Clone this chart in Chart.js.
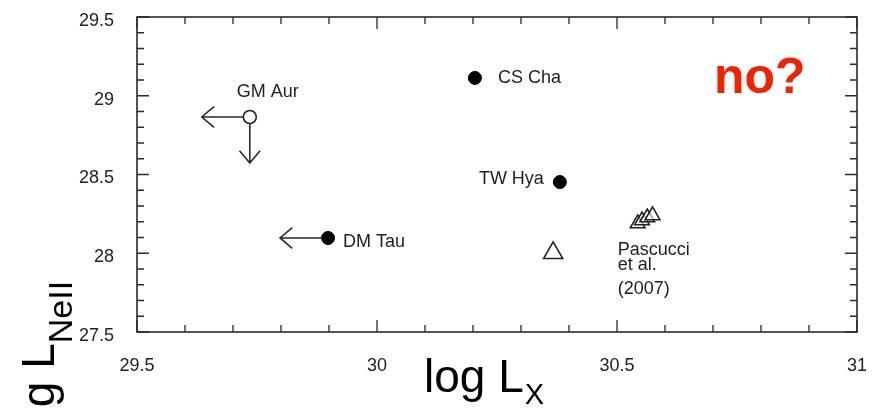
<!DOCTYPE html>
<html>
<head>
<meta charset="utf-8">
<script src="https://cdn.jsdelivr.net/npm/chart.js@4.4.1/dist/chart.umd.min.js"></script>
<style>
  html, body { margin: 0; padding: 0; background: #fff; }
  #wrap { width: 877px; height: 409px; }
</style>
</head>
<body>
<div id="wrap"><canvas id="chart" width="877" height="409"></canvas></div>
<script>
/* --------------- Data --------------------- */
const detectedNames = ["CS Cha", "TW Hya", "DM Tau"];
const detectedX = [30.204, 30.381, 29.898];
const detectedY = [29.113, 28.452, 28.097];

const limitNames = ["GM Aur"];
const limitX = [29.735];
const limitY = [28.865];

const pascucciX = [30.367, 30.543, 30.552, 30.563, 30.574];
const pascucciY = [28.002, 28.189, 28.208, 28.227, 28.240];

// sources that are only upper limits in x (log Lx) and/or y (log L NeII)
const upperLimitX = ["DM Tau", "GM Aur"];
const upperLimitY = ["GM Aur"];

const xTickLabels = ["29.5", "30", "30.5", "31"];
const yTickLabels = ["27.5", "28", "28.5", "29", "29.5"];

const FONT = '"Liberation Sans", Arial, Helvetica, sans-serif';

/* --------------- Helpers --------------------- */
const toPoints = (xs, ys) => xs.map((x, i) => ({ x: x, y: ys[i] }));
const isMajor = (v) => Math.abs(v * 2 - Math.round(v * 2)) < 1e-6;
const tickText = (labels) => (v) => {
    const hit = labels.find(l => Math.abs(parseFloat(l) - v) < 1e-6);
    return hit === undefined ? '' : hit;
};

/* --------------- Frame with inward ticks on all sides --------------------- */
const frameTicks = {
    id: 'frameTicks',
    beforeDatasetsDraw(chart) {
        const { ctx, chartArea: a, scales } = chart;
        ctx.save();
        ctx.strokeStyle = '#2a2a2a';
        ctx.lineWidth = 1.6;
        ctx.strokeRect(a.left, a.top, a.right - a.left, a.bottom - a.top);
        ctx.lineWidth = 1.3;
        ctx.beginPath();
        scales.x.ticks.forEach(t => {
            const px = scales.x.getPixelForValue(t.value);
            const len = isMajor(t.value) ? 12 : 7;
            ctx.moveTo(px, a.bottom); ctx.lineTo(px, a.bottom - len);
            ctx.moveTo(px, a.top); ctx.lineTo(px, a.top + len);
        });
        scales.y.ticks.forEach(t => {
            const py = scales.y.getPixelForValue(t.value);
            const len = isMajor(t.value) ? 12 : 7;
            ctx.moveTo(a.left, py); ctx.lineTo(a.left + len, py);
            ctx.moveTo(a.right, py); ctx.lineTo(a.right - len, py);
        });
        ctx.stroke();
        ctx.restore();
    }
};

/* --------------- Limit arrows, labels and titles --------------------- */
const drawArrow = (ctx, x0, y0, x1, y1) => {
    const ang = Math.atan2(y1 - y0, x1 - x0);
    const head = 16, spread = 0.7;
    ctx.beginPath();
    ctx.moveTo(x0, y0); ctx.lineTo(x1, y1);
    ctx.moveTo(x1 - head * Math.cos(ang - spread), y1 - head * Math.sin(ang - spread));
    ctx.lineTo(x1, y1);
    ctx.lineTo(x1 - head * Math.cos(ang + spread), y1 - head * Math.sin(ang + spread));
    ctx.stroke();
};

const annotations = {
    id: 'annotations',
    afterDatasetsDraw(chart) {
        const ctx = chart.ctx;
        const det = chart.getDatasetMeta(0).data;
        const lim = chart.getDatasetMeta(1).data;
        const pas = chart.getDatasetMeta(2).data;
        const spot = {};
        detectedNames.forEach((n, i) => spot[n] = det[i]);
        limitNames.forEach((n, i) => spot[n] = lim[i]);

        // upper limit arrows
        ctx.save();
        ctx.strokeStyle = '#2a2a2a';
        ctx.lineWidth = 1.6;
        upperLimitX.forEach(n => {
            const p = spot[n];
            drawArrow(ctx, p.x - 6, p.y, p.x - 48, p.y);
        });
        upperLimitY.forEach(n => {
            const p = spot[n];
            drawArrow(ctx, p.x, p.y + 6, p.x, p.y + 46);
        });
        ctx.restore();

        // source labels
        ctx.save();
        ctx.fillStyle = '#1e1e1e';
        ctx.font = '18px ' + FONT;
        const put = (txt, p, dx, dy, align) => {
            ctx.textAlign = align;
            ctx.fillText(txt, p.x + dx, p.y + dy);
        };
        put("GM Aur", spot["GM Aur"], 18, -20, 'center');
        put("CS Cha", spot["CS Cha"], 23, 5, 'left');
        put("TW Hya", spot["TW Hya"], -16, 2, 'right');
        put("DM Tau", spot["DM Tau"], 15, 9, 'left');
        const p0 = pas[1];
        put("Pascucci", p0, -20, 32, 'left');
        put("et al.", p0, -20, 47, 'left');
        put("(2007)", p0, -20, 71, 'left');

        // red note
        ctx.fillStyle = 'rgb(240, 34, 0)';
        ctx.font = 'bold 50px ' + FONT;
        ctx.textAlign = 'left';
        ctx.fillText("no?", 714, 93);
        ctx.restore();

        // axis titles
        ctx.save();
        ctx.fillStyle = '#000';
        ctx.textAlign = 'left';
        ctx.font = '46px ' + FONT;
        ctx.fillText("log L", 424, 392);
        let w = ctx.measureText("log L").width;
        ctx.font = '29px ' + FONT;
        ctx.fillText("X", 424 + w + 1, 404);

        ctx.translate(54, 443);
        ctx.rotate(-Math.PI / 2);
        ctx.font = '46px ' + FONT;
        ctx.fillText("log L", 0, 0);
        w = ctx.measureText("log L").width;
        ctx.font = '34px ' + FONT;
        ctx.fillText("NeII", w, 18);
        ctx.restore();
    }
};

/* --------------- Chart --------------------- */
const tickFont = { family: FONT, size: 18 };

new Chart(document.getElementById("chart"), {
    type: "scatter",
    data: {
        datasets: [
            {
                label: "detected",
                data: toPoints(detectedX, detectedY),
                pointStyle: "circle",
                pointRadius: 6.5,
                backgroundColor: "#000",
                borderColor: "#000",
                borderWidth: 1,
            },
            {
                label: "upper limit",
                data: toPoints(limitX, limitY),
                pointStyle: "circle",
                pointRadius: 6.5,
                backgroundColor: "#fff",
                borderColor: "#222",
                borderWidth: 1.6,
            },
            {
                label: "Pascucci et al. (2007)",
                data: toPoints(pascucciX, pascucciY),
                pointStyle: "triangle",
                pointRadius: [11, 8.5, 8.5, 8.5, 8.5],
                backgroundColor: "rgba(255,255,255,0.6)",
                borderColor: "#222",
                borderWidth: 1.6,
            },
        ],
    },
    options: {
        responsive: false,
        animation: false,
        devicePixelRatio: 1,
        layout: { padding: { left: 0, right: 20, top: 17, bottom: 0 } },
        plugins: {
            legend: { display: false },
            tooltip: { enabled: false },
        },
        scales: {
            x: {
                type: "linear",
                min: parseFloat(xTickLabels[0]),
                max: parseFloat(xTickLabels[xTickLabels.length - 1]),
                grid: { display: false },
                border: { display: false },
                ticks: {
                    stepSize: 0.1,
                    autoSkip: false,
                    maxRotation: 0,
                    padding: 15,
                    color: "#222",
                    font: tickFont,
                    callback: tickText(xTickLabels),
                },
                afterFit: (scale) => {
                    scale.height = 77;
                    scale.paddingLeft = 0;
                    scale.paddingRight = 0;
                },
            },
            y: {
                type: "linear",
                min: parseFloat(yTickLabels[0]),
                max: parseFloat(yTickLabels[yTickLabels.length - 1]),
                grid: { display: false },
                border: { display: false },
                ticks: {
                    stepSize: 0.1,
                    autoSkip: false,
                    padding: 15,
                    labelOffset: 4,
                    color: "#222",
                    font: tickFont,
                    callback: tickText(yTickLabels),
                },
                afterFit: (scale) => {
                    scale.width = 137;
                    scale.paddingTop = 0;
                    scale.paddingBottom = 0;
                },
            },
        },
    },
    plugins: [frameTicks, annotations],
});
</script>
</body>
</html>
